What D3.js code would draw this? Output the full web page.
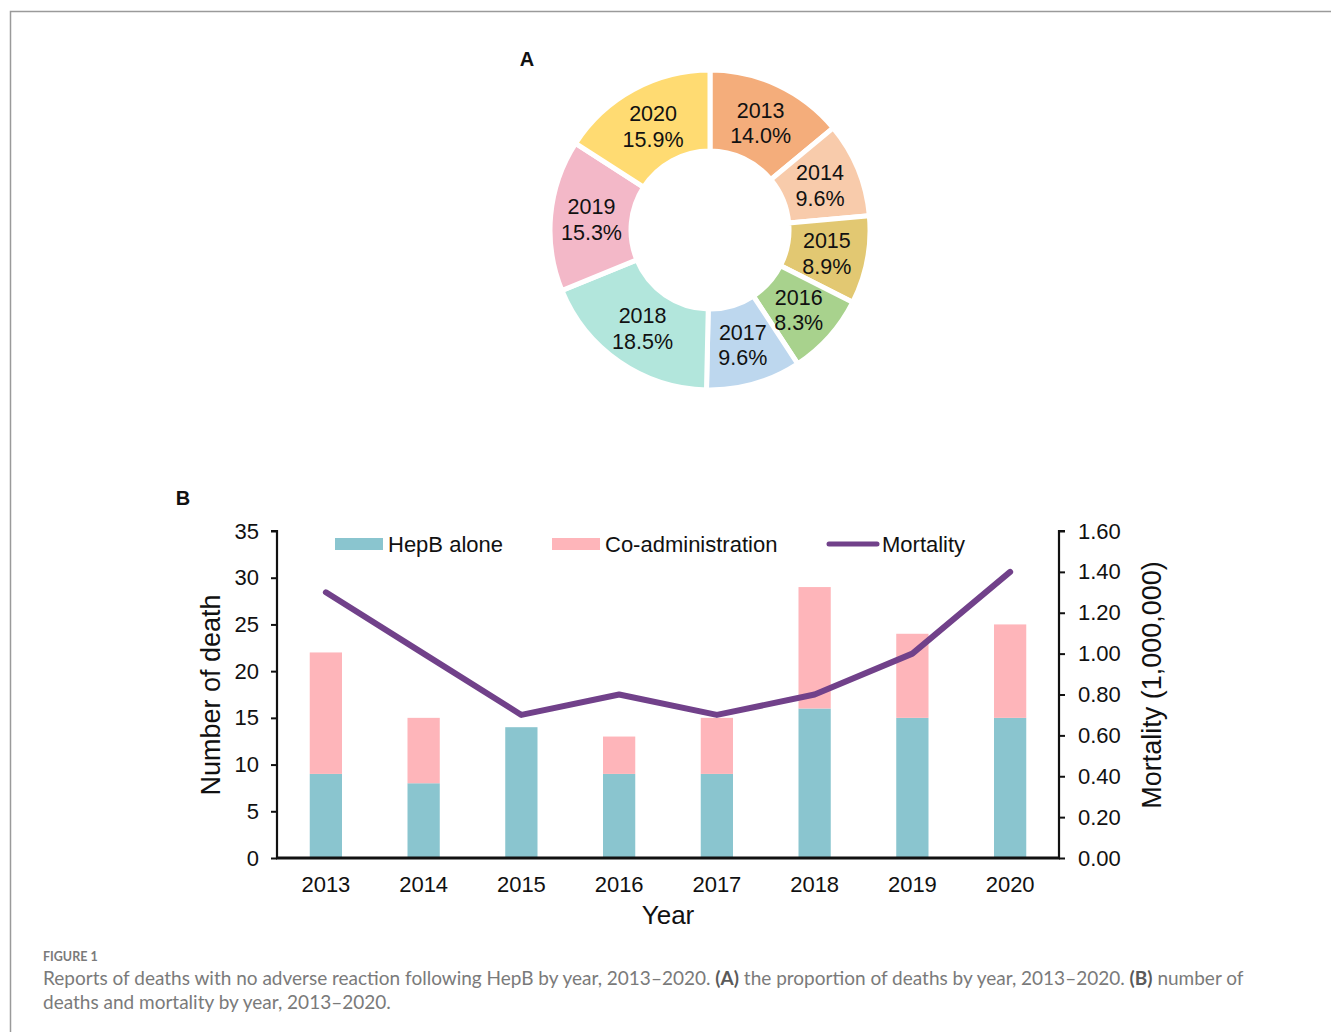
<!DOCTYPE html>
<html>
<head>
<meta charset="utf-8">
<script src="https://cdn.jsdelivr.net/npm/d3@7"></script>
<style>
  body { margin: 0; background: #fff; }
  svg text { font-family: "Liberation Sans", Arial, sans-serif; fill: #111; }
  svg text.cap { font-family: Lato, "Open Sans", sans-serif; fill: #7a7a7a; }
  svg text.cap tspan.b { font-weight: bold; fill: #5a5a5a; }
</style>
</head>
<body>
<svg id="fig" width="1331" height="1032"></svg>
<script>
// ── Data ────────────────────────────────────────────────────────────────
const years = ["2013","2014","2015","2016","2017","2018","2019","2020"];
const sharePct = [14.0, 9.6, 8.9, 8.3, 9.6, 18.5, 15.3, 15.9];
const hepbAlone = [9, 8, 14, 9, 9, 16, 15, 15];
const coAdmin = [13, 7, 0, 4, 6, 13, 9, 10];
const mortality = [1.3, 1.0, 0.7, 0.8, 0.7, 0.8, 1.0, 1.4];
const leftTicks = [0, 5, 10, 15, 20, 25, 30, 35];
const rightTicks = [0, 0.2, 0.4, 0.6, 0.8, 1.0, 1.2, 1.4, 1.6];

// ── Palette ─────────────────────────────────────────────────────────────
const PIE_COLORS = ["#F4AD7B","#F8CBAB","#E2C872","#A8D28D","#BDD7EE","#B2E6DC","#F3B8C8","#FFDB72"];
const TEAL = "#8AC5CF";
const PINK = "#FEB5BA";
const PURPLE = "#71418A";

const svg = d3.select("#fig");

// frame
svg.append("path").attr("d", "M10.5,1032 V11.5 H1331")
  .attr("fill", "none").attr("stroke", "#9a9a9a").attr("stroke-width", 1.5);

// ── A: donut ────────────────────────────────────────────────────────────
function renderDonut() {
  const cx = 710, cy = 230;
  const g = svg.append("g").attr("transform", `translate(${cx},${cy})`);
  const data = years.map((y, i) => ({ year: y, pct: sharePct[i] }));
  const pie = d3.pie().value(d => d.pct).sort(null);
  const arc = d3.arc().innerRadius(79).outerRadius(160);
  const labelArc = d3.arc().innerRadius(119).outerRadius(119);

  g.selectAll("path.slice").data(pie(data)).enter().append("path")
    .attr("class", "slice")
    .attr("d", arc)
    .attr("fill", (d, i) => PIE_COLORS[i])
    .attr("stroke", "#fff").attr("stroke-width", 5);

  const lab = g.selectAll("text.lab").data(pie(data)).enter().append("text")
    .attr("class", "lab")
    .attr("transform", d => `translate(${labelArc.centroid(d)})`)
    .attr("text-anchor", "middle")
    .style("font-size", "21.5px");
  lab.append("tspan").attr("x", 0).attr("dy", "-0.22em").text(d => d.data.year);
  lab.append("tspan").attr("x", 0).attr("dy", "1.2em").text(d => d.data.pct.toFixed(1) + "%");

  svg.append("text").attr("x", 527).attr("y", 66).attr("text-anchor", "middle")
    .style("font-size", "20px").style("font-weight", "bold").text("A");
}

// ── B: stacked bars + mortality line ────────────────────────────────────
function renderBars() {
  const left = 277, right = 1059, top = 531, bottom = 858;

  const x = d3.scaleBand().domain(years).range([left, right])
    .paddingInner(0.67).paddingOuter(0.335);
  const y = d3.scaleLinear().domain([0, 35]).range([bottom, top]);
  const y2 = d3.scaleLinear().domain([0, 1.6]).range([bottom, top]);

  svg.append("text").attr("x", 183).attr("y", 505).attr("text-anchor", "middle")
    .style("font-size", "20px").style("font-weight", "bold").text("B");

  // bars
  const rows = years.map((yr, i) => ({ year: yr, a: hepbAlone[i], b: coAdmin[i] }));
  svg.selectAll("rect.alone").data(rows).enter().append("rect")
    .attr("x", d => x(d.year)).attr("width", x.bandwidth())
    .attr("y", d => y(d.a)).attr("height", d => y(0) - y(d.a))
    .attr("fill", TEAL);
  svg.selectAll("rect.co").data(rows.filter(d => d.b > 0)).enter().append("rect")
    .attr("x", d => x(d.year)).attr("width", x.bandwidth())
    .attr("y", d => y(d.a + d.b)).attr("height", d => y(d.a) - y(d.a + d.b))
    .attr("fill", PINK);

  // mortality line
  const line = d3.line()
    .x((d, i) => x(years[i]) + x.bandwidth() / 2)
    .y(d => y2(d));
  svg.append("path").datum(mortality)
    .attr("d", line).attr("fill", "none")
    .attr("stroke", PURPLE).attr("stroke-width", 6)
    .attr("stroke-linejoin", "round").attr("stroke-linecap", "round");

  // axes
  const axL = svg.append("g").attr("transform", `translate(${left},0)`)
    .call(d3.axisLeft(y).tickValues(leftTicks).tickSize(6).tickPadding(12));
  const axR = svg.append("g").attr("transform", `translate(${right},0)`)
    .call(d3.axisRight(y2).tickValues(rightTicks).tickSize(6).tickPadding(13).tickFormat(d3.format(".2f")));
  const axB = svg.append("g").attr("transform", `translate(0,${bottom})`)
    .call(d3.axisBottom(x).tickSize(0).tickPadding(18));

  [axL, axR, axB].forEach(ax => {
    ax.selectAll("text").style("font-size", "22px").attr("fill", "#111")
      .style("font-family", '"Liberation Sans", Arial, sans-serif');
    ax.selectAll("line").attr("stroke", "#111").attr("stroke-width", 2);
    ax.select(".domain").attr("stroke", "#111").attr("stroke-width", 2.2);
  });
  axL.select(".domain").attr("d", `M-6,${top}H0V${bottom}`);
  axR.select(".domain").attr("d", `M6,${top}H0V${bottom}`);
  axB.select(".domain").attr("stroke-width", 3).attr("d", `M${left - 1},0H${right + 1}`);

  // axis titles
  svg.append("text").attr("transform", "translate(220,695) rotate(-90)")
    .attr("text-anchor", "middle").style("font-size", "27px").text("Number of death");
  svg.append("text").attr("transform", "translate(1161,685) rotate(-90)")
    .attr("text-anchor", "middle").style("font-size", "27px").text("Mortality (1,000,000)");
  svg.append("text").attr("x", 668).attr("y", 924).attr("text-anchor", "middle")
    .style("font-size", "26px").text("Year");

  // legend
  const ly = 544;
  const lg = svg.append("g");
  lg.append("rect").attr("x", 335).attr("y", ly - 6).attr("width", 48).attr("height", 12).attr("fill", TEAL);
  lg.append("text").attr("x", 388).attr("y", ly + 8).style("font-size", "22px").text("HepB alone");
  lg.append("rect").attr("x", 552).attr("y", ly - 6).attr("width", 48).attr("height", 12).attr("fill", PINK);
  lg.append("text").attr("x", 605).attr("y", ly + 8).style("font-size", "22px").text("Co-administration");
  lg.append("line").attr("x1", 829).attr("x2", 877).attr("y1", ly).attr("y2", ly)
    .attr("stroke", PURPLE).attr("stroke-width", 5).attr("stroke-linecap", "round");
  lg.append("text").attr("x", 882).attr("y", ly + 8).style("font-size", "22px").text("Mortality");
}

// ── Caption ─────────────────────────────────────────────────────────────
function renderCaption() {
  svg.append("text").attr("class", "cap").attr("x", 43).attr("y", 961)
    .style("font-size", "12.5px").style("font-weight", "bold")
    .text("FIGURE 1");
  const t1 = svg.append("text").attr("class", "cap").attr("x", 43).attr("y", 985)
    .style("font-size", "19px");
  t1.append("tspan").text("Reports of deaths with no adverse reaction following HepB by year, 2013\u20132020. ");
  t1.append("tspan").attr("class", "b").text("(A)");
  t1.append("tspan").text(" the proportion of deaths by year, 2013\u20132020. ");
  t1.append("tspan").attr("class", "b").text("(B)");
  t1.append("tspan").text(" number of");
  svg.append("text").attr("class", "cap").attr("x", 43).attr("y", 1009)
    .style("font-size", "19px")
    .text("deaths and mortality by year, 2013\u20132020.");
}

renderDonut();
renderBars();
renderCaption();
</script>
</body>
</html>
